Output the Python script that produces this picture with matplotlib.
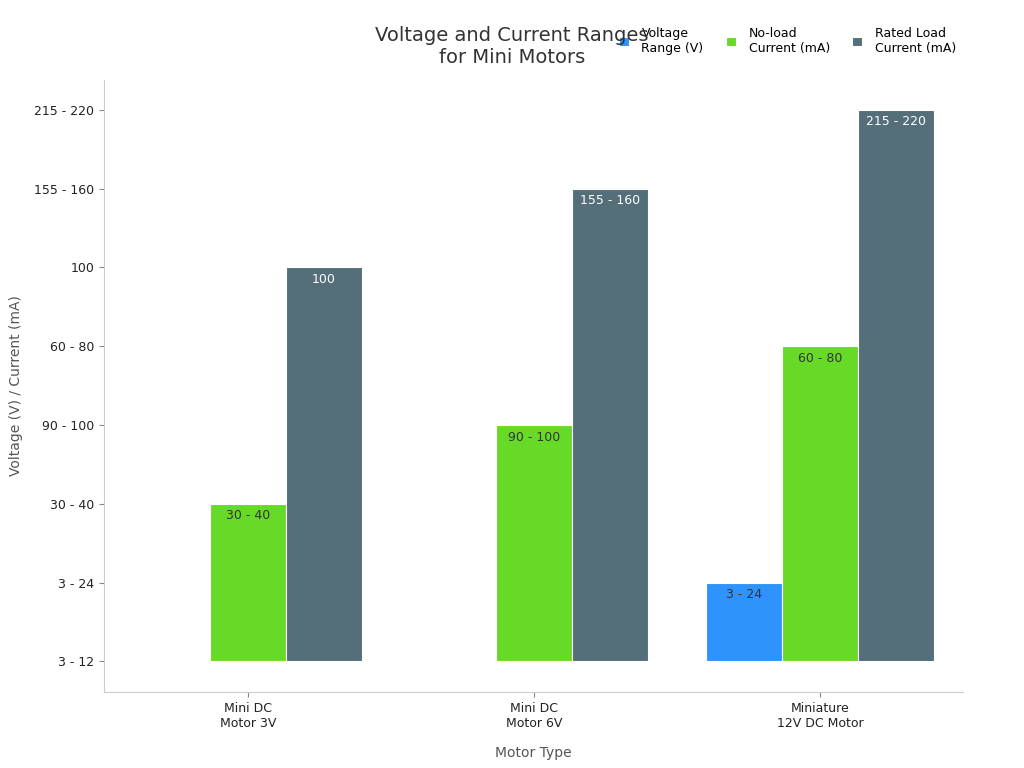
import matplotlib
matplotlib.use("Agg")
import matplotlib.pyplot as plt
import numpy as np

categories = ["Mini DC\nMotor 3V", "Mini DC\nMotor 6V", "Miniature\n12V DC Motor"]
y_levels = ["3 - 12", "3 - 24", "30 - 40", "90 - 100", "60 - 80", "100", "155 - 160", "215 - 220"]
series_names = ["Voltage\nRange (V)", "No-load\nCurrent (mA)", "Rated Load\nCurrent (mA)"]
voltage = ["3 - 12", "3 - 12", "3 - 24"]
noload = ["30 - 40", "90 - 100", "60 - 80"]
rated = ["100", "155 - 160", "215 - 220"]
colors = ["#2E93FA", "#66DA26", "#546E7A"]
text_colors = ["#333333", "#333333", "white"]

fig = plt.figure(figsize=(10.24, 7.68), dpi=100)
ax = fig.add_axes([104/1024, 1-692/768, (963-104)/1024, (692-80)/768])
x = np.arange(len(categories))
w = 0.266
for i, (vals, c, tc) in enumerate(zip([voltage, noload, rated], colors, text_colors)):
    h = [y_levels.index(v) for v in vals]
    pos = x + (i-1)*w
    ax.bar(pos, h, w, color=c, edgecolor="white", linewidth=0.8, label=series_names[i])
    for p, hv, lab in zip(pos, h, vals):
        if hv > 0:
            ax.text(p, hv-0.07, lab, ha="center", va="top", fontsize=9, color=tc)

ax.set_xlim(-0.503, 2.5)
ax.set_ylim(-0.39, 7.38)
ax.set_yticks(range(len(y_levels)))
ax.set_yticklabels(y_levels, fontsize=9, color="#222222")
ax.set_xticks(x)
ax.set_xticklabels(categories, fontsize=9, color="#222222")
for s in ["top", "right"]:
    ax.spines[s].set_visible(False)
for s in ["left", "bottom"]:
    ax.spines[s].set_color("#cccccc")
ax.tick_params(colors="#888888", labelcolor="#222222")
ax.set_xlabel("Motor Type", fontsize=10, color="#555555", labelpad=12)
ax.set_ylabel("Voltage (V) / Current (mA)", fontsize=10, color="#555555", labelpad=8)
fig.text(0.5, 0.94, "Voltage and Current Ranges\nfor Mini Motors", ha="center", va="center", fontsize=14, color="#333333")
ax.legend(loc="upper right", bbox_to_anchor=(1.005, 1.105), ncol=3, frameon=False, fontsize=9,
          handlelength=0.8, handleheight=0.8, columnspacing=1.8, handletextpad=1.0)
fig.savefig("out.png", dpi=100)
